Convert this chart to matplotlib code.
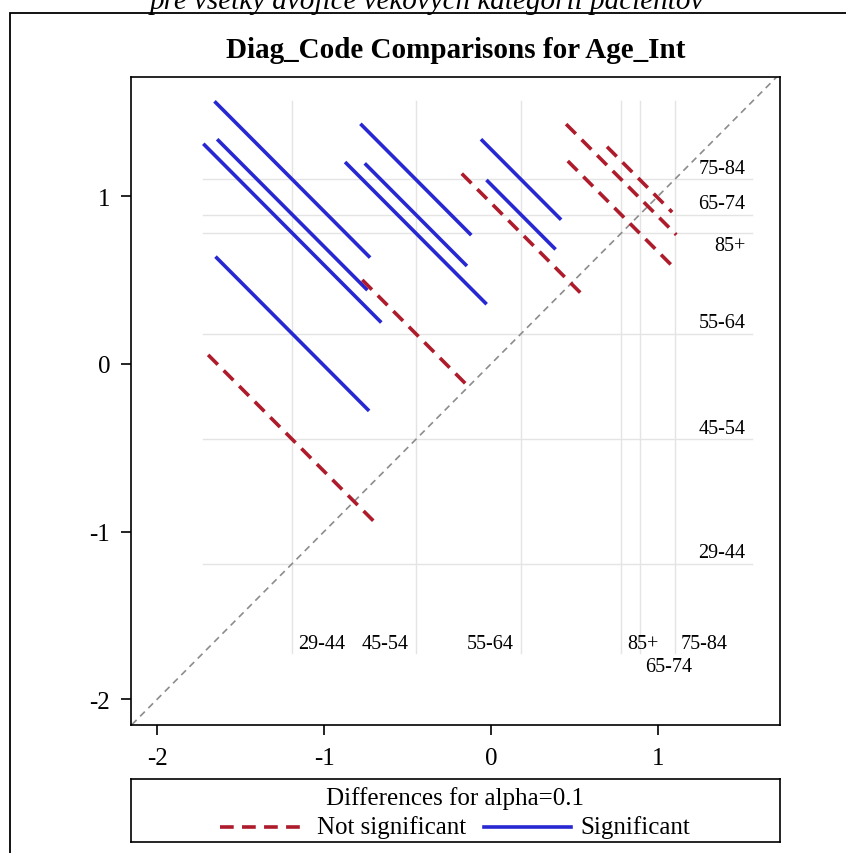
import matplotlib
matplotlib.use("Agg")
import matplotlib.pyplot as plt
from matplotlib.patches import Rectangle

# level means
levels = ["29-44", "45-54", "55-64", "65-74", "75-84", "85+"]
means = [-1.19, -0.45, 0.18, 0.89, 1.10, 0.78]

# pairwise comparisons: x level, y level, half length of segment, significant?
pair_x = ["29-44", "29-44", "29-44", "29-44", "29-44",
          "45-54", "45-54", "45-54", "45-54",
          "55-64", "55-64", "55-64",
          "85+", "85+", "65-74"]
pair_y = ["75-84", "85+", "65-74", "55-64", "45-54",
          "75-84", "85+", "65-74", "55-64",
          "75-84", "65-74", "85+",
          "75-84", "65-74", "75-84"]
half_len = [0.466, 0.533, 0.45, 0.46, 0.504,
            0.332, 0.424, 0.306, 0.321,
            0.24, 0.207, 0.355,
            0.33, 0.32, 0.195]
significant = [True, True, True, True, False,
               True, True, True, False,
               True, True, False,
               False, False, False]

RED = "#AE1C2C"
BLUE = "#2828D2"
SERIF = ["Liberation Serif", "DejaVu Serif"]

plt.rcParams["font.family"] = SERIF

W, H = 846, 854
fig = plt.figure(figsize=(W / 100, H / 100), dpi=100)

# outer SAS graph border
fig.patches.append(Rectangle((10 / W, -0.05), 1.0, 1.05 - 14 / H,
                             transform=fig.transFigure, fill=False,
                             lw=1.3, ec="black"))

# subtitle is cut by the top edge in the original too
fig.text(427 / W, 1 - 9 / H, "pre všetky dvojice vekových kategórií pacientov",
         ha="center", va="baseline", fontsize=21, style="italic")
fig.text(455.5 / W, 1 - 58 / H, "Diag_Code Comparisons for Age_Int",
         ha="center", va="baseline", fontsize=21, fontweight="bold")

ax = fig.add_axes([131 / W, 128 / H, 649 / W, 648 / H])
ax.set_xlim(-2.156, 1.731)
ax.set_ylim(-2.153, 1.711)

mean_of = dict(zip(levels, means))

# segment endpoints
segs = []
for a, b, h, s in zip(pair_x, pair_y, half_len, significant):
    mx, my = mean_of[a], mean_of[b]
    segs.append(((mx - h, mx + h), (my + h, my - h), s))

lo = min(min(xs + ys) for xs, ys, _ in segs)
hi = max(max(xs + ys) for xs, ys, _ in segs)

# reference lines
for m in means:
    ax.plot([m, m], [lo, hi], color="#e4e4e4", lw=1, zorder=1)
    ax.plot([lo, hi], [m, m], color="#e4e4e4", lw=1, zorder=1)

# diagonal
ax.plot([-2.2, 1.8], [-2.2, 1.8], color="#8c8c8c", lw=1.2,
        dashes=(4, 3), zorder=2)

for xs, ys, s in segs:
    if s:
        ax.plot(xs, ys, color=BLUE, lw=2.6, solid_capstyle="butt", zorder=3)
    else:
        ax.plot(xs, ys, color=RED, lw=2.6, dashes=(3.8, 2.3), zorder=3)

# labels on the horizontal reference lines (right side)
right_dy = {"29-44": 8, "45-54": 8, "55-64": 8, "65-74": 8, "75-84": 8, "85+": -9}
for lev, m in zip(levels, means):
    ax.annotate(lev, (hi, m), xytext=(-5, right_dy[lev]), textcoords="offset points",
                ha="right", va="center", fontsize=14.5)

# labels on the vertical reference lines (bottom)
bottom_pos = {"29-44": ("left", 7), "45-54": ("right", 7), "55-64": ("right", 7),
              "65-74": ("left", -10), "75-84": ("left", 7), "85+": ("left", 7)}
for lev, m in zip(levels, means):
    ha, dy = bottom_pos[lev]
    dx = 4 if ha == "left" else -5
    ax.annotate(lev, (m, lo), xytext=(dx, dy), textcoords="offset points",
                ha=ha, va="center", fontsize=14.5)

ax.set_xticks([-2, -1, 0, 1])
ax.set_yticks([-2, -1, 0, 1])
ax.set_xticklabels(["-2", "-1", "0", "1"])
ax.set_yticklabels(["-2", "-1", "0", "1"])
ax.tick_params(direction="out", length=7, width=1.2, labelsize=18,
               top=False, right=False)
ax.tick_params(axis="x", pad=9)
ax.tick_params(axis="y", pad=8)
for sp in ax.spines.values():
    sp.set_linewidth(1.2)

# legend box
lg = fig.add_axes([131 / W, 11 / H, 649 / W, 63 / H])
lg.set_xlim(0, 649)
lg.set_ylim(0, 63)
lg.set_xticks([])
lg.set_yticks([])
for sp in lg.spines.values():
    sp.set_linewidth(1.2)
lg.text(324, 44, "Differences for alpha=0.1", ha="center", va="center", fontsize=18)
lg.plot([89, 177], [15, 15], color=RED, lw=2.6, dashes=(3.8, 2.3))
lg.text(186, 15, "Not significant", ha="left", va="center", fontsize=18)
lg.plot([353, 440], [15, 15], color=BLUE, lw=2.6)
lg.text(449, 15, "Significant", ha="left", va="center", fontsize=18)

fig.savefig("out.png", dpi=100)
